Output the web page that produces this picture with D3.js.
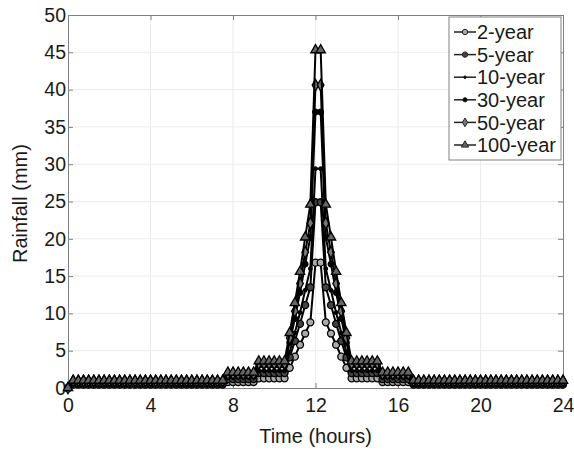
<!DOCTYPE html>
<html>
<head>
<meta charset="utf-8">
<script src="https://cdn.jsdelivr.net/npm/d3@7/dist/d3.min.js"></script>
<style>
  body { margin: 0; background: #fff; }
  text { font-family: "Liberation Sans", Arial, sans-serif; fill: #1a1a1a; }
</style>
</head>
<body>
<div id="chart"></div>
<script>
/** Data: 15-minute rainfall depths (mm), 0 to 24 h */
const timeHours = d3.range(0, 24.001, 0.25);

const rain2yr = [0,
  0.45,0.45,0.45,0.45,0.45,0.45,0.45,0.45,0.45,0.45,
  0.45,0.45,0.45,0.45,0.45,0.45,0.45,0.45,0.45,0.45,
  0.45,0.45,0.45,0.45,0.45,0.45,0.45,0.45,0.45,0.45,
  0.8,0.8,0.8,0.8,0.8,0.8, 1.3,1.3,1.3,1.3,1.3,1.3,
  2.7,4.2,5.8,7.3,8.8, 16.8,16.8, 8.8,7.3,5.8,4.2,2.7,
  1.3,1.3,1.3,1.3,1.3,1.3, 0.8,0.8,0.8,0.8,0.8,0.8,
  0.45,0.45,0.45,0.45,0.45,0.45,0.45,0.45,0.45,0.45,
  0.45,0.45,0.45,0.45,0.45,0.45,0.45,0.45,0.45,0.45,
  0.45,0.45,0.45,0.45,0.45,0.45,0.45,0.45,0.45,0.45];

const rain5yr = [0,
  0.6,0.6,0.6,0.6,0.6,0.6,0.6,0.6,0.6,0.6,
  0.6,0.6,0.6,0.6,0.6,0.6,0.6,0.6,0.6,0.6,
  0.6,0.6,0.6,0.6,0.6,0.6,0.6,0.6,0.6,0.6,
  1.2,1.2,1.2,1.2,1.2,1.2, 2.0,2.0,2.0,2.0,2.0,2.0,
  4.1,6.3,8.6,11.1,13.5, 24.9,24.9, 13.5,11.1,8.6,6.3,4.1,
  2.0,2.0,2.0,2.0,2.0,2.0, 1.2,1.2,1.2,1.2,1.2,1.2,
  0.6,0.6,0.6,0.6,0.6,0.6,0.6,0.6,0.6,0.6,
  0.6,0.6,0.6,0.6,0.6,0.6,0.6,0.6,0.6,0.6,
  0.6,0.6,0.6,0.6,0.6,0.6,0.6,0.6,0.6,0.6];

const rain10yr = [0,
  0.7,0.7,0.7,0.7,0.7,0.7,0.7,0.7,0.7,0.7,
  0.7,0.7,0.7,0.7,0.7,0.7,0.7,0.7,0.7,0.7,
  0.7,0.7,0.7,0.7,0.7,0.7,0.7,0.7,0.7,0.7,
  1.4,1.4,1.4,1.4,1.4,1.4, 2.3,2.3,2.3,2.3,2.3,2.3,
  4.8,7.4,10.1,13.1,16.0, 29.4,29.4, 16.0,13.1,10.1,7.4,4.8,
  2.3,2.3,2.3,2.3,2.3,2.3, 1.4,1.4,1.4,1.4,1.4,1.4,
  0.7,0.7,0.7,0.7,0.7,0.7,0.7,0.7,0.7,0.7,
  0.7,0.7,0.7,0.7,0.7,0.7,0.7,0.7,0.7,0.7,
  0.7,0.7,0.7,0.7,0.7,0.7,0.7,0.7,0.7,0.7];

const rain30yr = [0,
  0.85,0.85,0.85,0.85,0.85,0.85,0.85,0.85,0.85,0.85,
  0.85,0.85,0.85,0.85,0.85,0.85,0.85,0.85,0.85,0.85,
  0.85,0.85,0.85,0.85,0.85,0.85,0.85,0.85,0.85,0.85,
  1.7,1.7,1.7,1.7,1.7,1.7, 3.0,3.0,3.0,3.0,3.0,3.0,
  6.1,9.3,12.8,16.6,20.2, 37.0,37.0, 20.2,16.6,12.8,9.3,6.1,
  3.0,3.0,3.0,3.0,3.0,3.0, 1.7,1.7,1.7,1.7,1.7,1.7,
  0.85,0.85,0.85,0.85,0.85,0.85,0.85,0.85,0.85,0.85,
  0.85,0.85,0.85,0.85,0.85,0.85,0.85,0.85,0.85,0.85,
  0.85,0.85,0.85,0.85,0.85,0.85,0.85,0.85,0.85,0.85];

const rain50yr = [0,
  0.95,0.95,0.95,0.95,0.95,0.95,0.95,0.95,0.95,0.95,
  0.95,0.95,0.95,0.95,0.95,0.95,0.95,0.95,0.95,0.95,
  0.95,0.95,0.95,0.95,0.95,0.95,0.95,0.95,0.95,0.95,
  1.9,1.9,1.9,1.9,1.9,1.9, 3.3,3.3,3.3,3.3,3.3,3.3,
  6.7,10.3,14.0,18.2,22.1, 40.6,40.6, 22.1,18.2,14.0,10.3,6.7,
  3.3,3.3,3.3,3.3,3.3,3.3, 1.9,1.9,1.9,1.9,1.9,1.9,
  0.95,0.95,0.95,0.95,0.95,0.95,0.95,0.95,0.95,0.95,
  0.95,0.95,0.95,0.95,0.95,0.95,0.95,0.95,0.95,0.95,
  0.95,0.95,0.95,0.95,0.95,0.95,0.95,0.95,0.95,0.95];

const rain100yr = [0,
  1.0,1.0,1.0,1.0,1.0,1.0,1.0,1.0,1.0,1.0,
  1.0,1.0,1.0,1.0,1.0,1.0,1.0,1.0,1.0,1.0,
  1.0,1.0,1.0,1.0,1.0,1.0,1.0,1.0,1.0,1.0,
  2.1,2.1,2.1,2.1,2.1,2.1, 3.6,3.6,3.6,3.6,3.6,3.6,
  7.4,11.4,15.6,20.2,24.6, 45.3,45.3, 24.6,20.2,15.6,11.4,7.4,
  3.6,3.6,3.6,3.6,3.6,3.6, 2.1,2.1,2.1,2.1,2.1,2.1,
  1.0,1.0,1.0,1.0,1.0,1.0,1.0,1.0,1.0,1.0,
  1.0,1.0,1.0,1.0,1.0,1.0,1.0,1.0,1.0,1.0,
  1.0,1.0,1.0,1.0,1.0,1.0,1.0,1.0,1.0,1.0];

const seriesNames = ["2-year", "5-year", "10-year", "30-year", "50-year", "100-year"];
const seriesValues = [rain2yr, rain5yr, rain10yr, rain30yr, rain50yr, rain100yr];

const xTicks = [0, 4, 8, 12, 16, 20, 24];
const yTicks = [0, 5, 10, 15, 20, 25, 30, 35, 40, 45, 50];

/** Graph configs */
const width = 574;
const height = 450;
const margin = { top: 15, right: 11, bottom: 62, left: 68 };
const plotW = width - margin.left - margin.right;
const plotH = height - margin.top - margin.bottom;
const fontStack = '"Liberation Sans", Arial, sans-serif';

/** Marker styles per series (MATLAB-like) */
const markers = [
  { type: d3.symbolCircle, size: 38, fill: "#aaa" },
  { type: d3.symbolCircle, size: 38, fill: "#444" },
  { type: d3.symbolCircle, size: 9, fill: "#000" },
  { type: d3.symbolCircle, size: 24, fill: "#000" },
  { type: d3.symbolDiamond, size: 38, fill: "#777" },
  { type: d3.symbolTriangle, size: 38, fill: "#666" },
];

const svg = d3
  .select("#chart")
  .append("svg")
  .attr("width", width)
  .attr("height", height);

const x = d3.scaleLinear().domain([0, 24]).range([margin.left, margin.left + plotW]);
const y = d3.scaleLinear().domain([0, 50]).range([margin.top + plotH, margin.top]);

/** Grid */
svg.append("g")
  .selectAll("line")
  .data(xTicks.slice(1, -1))
  .join("line")
  .attr("x1", (d) => x(d)).attr("x2", (d) => x(d))
  .attr("y1", y(0)).attr("y2", y(50))
  .attr("stroke", "#ebebeb").attr("stroke-width", 1);

svg.append("g")
  .selectAll("line")
  .data(yTicks.slice(1, -1))
  .join("line")
  .attr("x1", x(0)).attr("x2", x(24))
  .attr("y1", (d) => y(d)).attr("y2", (d) => y(d))
  .attr("stroke", "#ebebeb").attr("stroke-width", 1);

/** Axes (ticks inside, box) */
const axisBottom = svg.append("g")
  .attr("transform", `translate(0, ${y(0)})`)
  .call(d3.axisBottom(x).tickValues(xTicks).tickSize(-5).tickPadding(10).tickFormat(d3.format("d")));
const axisLeft = svg.append("g")
  .attr("transform", `translate(${x(0)}, 0)`)
  .call(d3.axisLeft(y).tickValues(yTicks).tickSize(-5).tickPadding(2).tickFormat(d3.format("d")));
svg.append("g")
  .attr("transform", `translate(0, ${y(50)})`)
  .call(d3.axisTop(x).tickValues(xTicks).tickSize(-5).tickFormat(""));
svg.append("g")
  .attr("transform", `translate(${x(24)}, 0)`)
  .call(d3.axisRight(y).tickValues(yTicks).tickSize(-5).tickFormat(""));

svg.selectAll(".domain").attr("stroke", "#808080");
svg.selectAll(".tick line").attr("stroke", "#808080");
[axisBottom, axisLeft].forEach((g) =>
  g.selectAll("text").attr("font-size", 19.5).attr("fill", "#222")
    .style("font-family", fontStack));

/** Series lines and markers */
const line = d3.line().x((d) => x(d[0])).y((d) => y(d[1]));

seriesValues.forEach((vals, i) => {
  const pts = timeHours.map((t, k) => [t, vals[k]]);
  const g = svg.append("g");
  g.append("path")
    .attr("d", line(pts))
    .attr("fill", "none")
    .attr("stroke", "#000")
    .attr("stroke-width", 2);
  g.selectAll("path.m")
    .data(pts)
    .join("path")
    .attr("class", "m")
    .attr("d", d3.symbol().type(markers[i].type).size(markers[i].size))
    .attr("transform", (d) => `translate(${x(d[0])}, ${y(d[1])})`)
    .attr("fill", markers[i].fill)
    .attr("stroke", "#000")
    .attr("stroke-width", 1.3);
});

/** Legend */
const legend = svg.append("g").attr("transform", "translate(449, 17)");
legend.append("rect")
  .attr("width", 112).attr("height", 143)
  .attr("fill", "#fff").attr("stroke", "#808080");
seriesNames.forEach((name, i) => {
  const ly = 15 + i * 22.6;
  legend.append("line")
    .attr("x1", 5).attr("x2", 27).attr("y1", ly).attr("y2", ly)
    .attr("stroke", "#222").attr("stroke-width", 1.5);
  legend.append("path")
    .attr("d", d3.symbol().type(markers[i].type).size(markers[i].size * 0.6))
    .attr("transform", `translate(16, ${ly})`)
    .attr("fill", markers[i].fill).attr("stroke", "#222");
  legend.append("text")
    .attr("x", 28).attr("y", ly).attr("dy", "0.36em")
    .attr("font-size", 20)
    .attr("fill", "#222")
    .text(name);
});

/** Axis titles */
svg.append("text")
  .attr("x", x(12)).attr("y", 443)
  .attr("text-anchor", "middle")
  .attr("font-size", 20)
  .attr("fill", "#222")
  .text("Time (hours)");
svg.append("text")
  .attr("transform", `translate(27, ${y(25) + 2}) rotate(-90)`)
  .attr("text-anchor", "middle")
  .attr("font-size", 20)
  .attr("fill", "#222")
  .text("Rainfall (mm)");
</script>
</body>
</html>
